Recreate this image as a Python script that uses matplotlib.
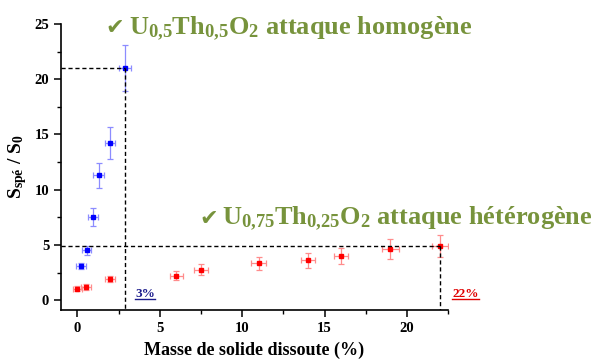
import numpy as np
import matplotlib
matplotlib.use("Agg")
import matplotlib.pyplot as plt
from matplotlib.ticker import MultipleLocator
from matplotlib.lines import Line2D

plt.rcParams['font.family'] = ['Liberation Serif', 'DejaVu Sans']
plt.rcParams['font.weight'] = 'bold'
plt.rcParams['mathtext.default'] = 'regular'

# U0,5Th0,5O2 (blue) : masse dissoute (%) / rapport de surfaces
x_homo = [0.2, 0.55, 0.95, 1.3, 2.0, 2.9]
y_homo = [3.1, 4.5, 7.5, 11.3, 14.25, 21.0]
xerr_homo = [0.3, 0.3, 0.3, 0.33, 0.3, 0.35]
yerr_homo = [0.3, 0.4, 0.8, 1.15, 1.45, 2.1]

# U0,75Th0,25O2 (red)
x_hetero = [0.0, 0.5, 2.0, 6.0, 7.5, 11.0, 14.0, 16.0, 19.0, 22.0]
y_hetero = [1.05, 1.2, 1.9, 2.2, 2.75, 3.35, 3.6, 4.0, 4.65, 4.9]
xerr_hetero = [0.3, 0.3, 0.3, 0.4, 0.4, 0.45, 0.45, 0.45, 0.5, 0.5]
yerr_hetero = [0.2, 0.25, 0.3, 0.4, 0.5, 0.6, 0.7, 0.7, 0.9, 1.0]

GREEN = '#77933C'

fig = plt.figure(figsize=(6.01, 3.61), dpi=100)
ax = fig.add_axes([0.1015, 0.141, 0.644, 0.7925])

ax.errorbar(x_homo, y_homo, xerr=xerr_homo, yerr=yerr_homo, fmt='none',
            ecolor='#8C8CFF', elinewidth=0.9, capsize=2.5, capthick=0.9)
ax.plot(x_homo, y_homo, 's', color='#0000FF', ms=3.5)
ax.errorbar(x_hetero, y_hetero, xerr=xerr_hetero, yerr=yerr_hetero, fmt='none',
            ecolor='#FF8C8C', elinewidth=0.9, capsize=2.5, capthick=0.9)
ax.plot(x_hetero, y_hetero, 's', color='#FF0000', ms=3.5)

ax.set_xlim(-1.0, 22.5)
ax.set_ylim(-0.9, 25)

# guides to the last point of each series
y0 = ax.get_ylim()[0]
x0 = ax.get_xlim()[0]
for xs, ys in [(x_homo, y_homo), (x_hetero, y_hetero)]:
    ax.plot([x0, xs[-1]], [ys[-1], ys[-1]], color='black', ls=(0, (3, 2)), lw=1)
    ax.plot([xs[-1], xs[-1]], [ys[-1], y0], color='black', ls=(0, (3, 2)), lw=1)

ax.spines['top'].set_visible(False)
ax.spines['right'].set_visible(False)
for s in ('left', 'bottom'):
    ax.spines[s].set_linewidth(1.2)
ax.xaxis.set_major_locator(MultipleLocator(5))
ax.xaxis.set_minor_locator(MultipleLocator(2.5))
ax.yaxis.set_major_locator(MultipleLocator(5))
ax.yaxis.set_minor_locator(MultipleLocator(2.5))
ax.tick_params(which='major', direction='out', length=5, width=1.1, labelsize=10.5)
ax.tick_params(which='minor', direction='out', length=3, width=1.0)

ax.set_xlabel('Masse de solide dissoute (%)', fontsize=13, fontweight='bold', labelpad=5)
ax.set_ylabel('S$_{spé}$ / S$_0$', fontsize=14, fontweight='bold', labelpad=4)

# titres des deux séries
def headline(xf, yf, txt):
    chk = fig.text(xf, yf, '\u2714', color=GREEN, fontsize=16,
                   family='DejaVu Sans', va='baseline')
    ax.annotate(txt, xy=(1, yf), xycoords=(chk, 'figure fraction'),
                xytext=(3, 0), textcoords='offset points',
                color=GREEN, fontsize=19, fontweight='bold', va='baseline')

headline(0.176, 0.905, 'U$_{0{,}5}$Th$_{0{,}5}$O$_2$ attaque homogène')
headline(0.332, 0.378, 'U$_{0{,}75}$Th$_{0{,}25}$O$_2$ attaque hétérogène')

t3 = ax.text(3.5, 0.0, '3%', color='#1C1C8C', fontsize=9.5, fontweight='bold',
             va='bottom')
t22 = ax.text(22.75, 0.0, '22%', color='#E00000', fontsize=9.5, fontweight='bold',
              va='bottom', clip_on=False)

fig.canvas.draw()
r = fig.canvas.get_renderer()
inv = fig.transFigure.inverted()
for t in (t3, t22):
    bb = t.get_window_extent(r)
    (ax0, ay0), (ax1, _) = inv.transform([[bb.x0, bb.y0 + 1], [bb.x1, bb.y0]])
    fig.add_artist(Line2D([ax0, ax1], [ay0, ay0], transform=fig.transFigure,
                          color=t.get_color(), lw=1.0))

fig.savefig('out.png', dpi=100)
